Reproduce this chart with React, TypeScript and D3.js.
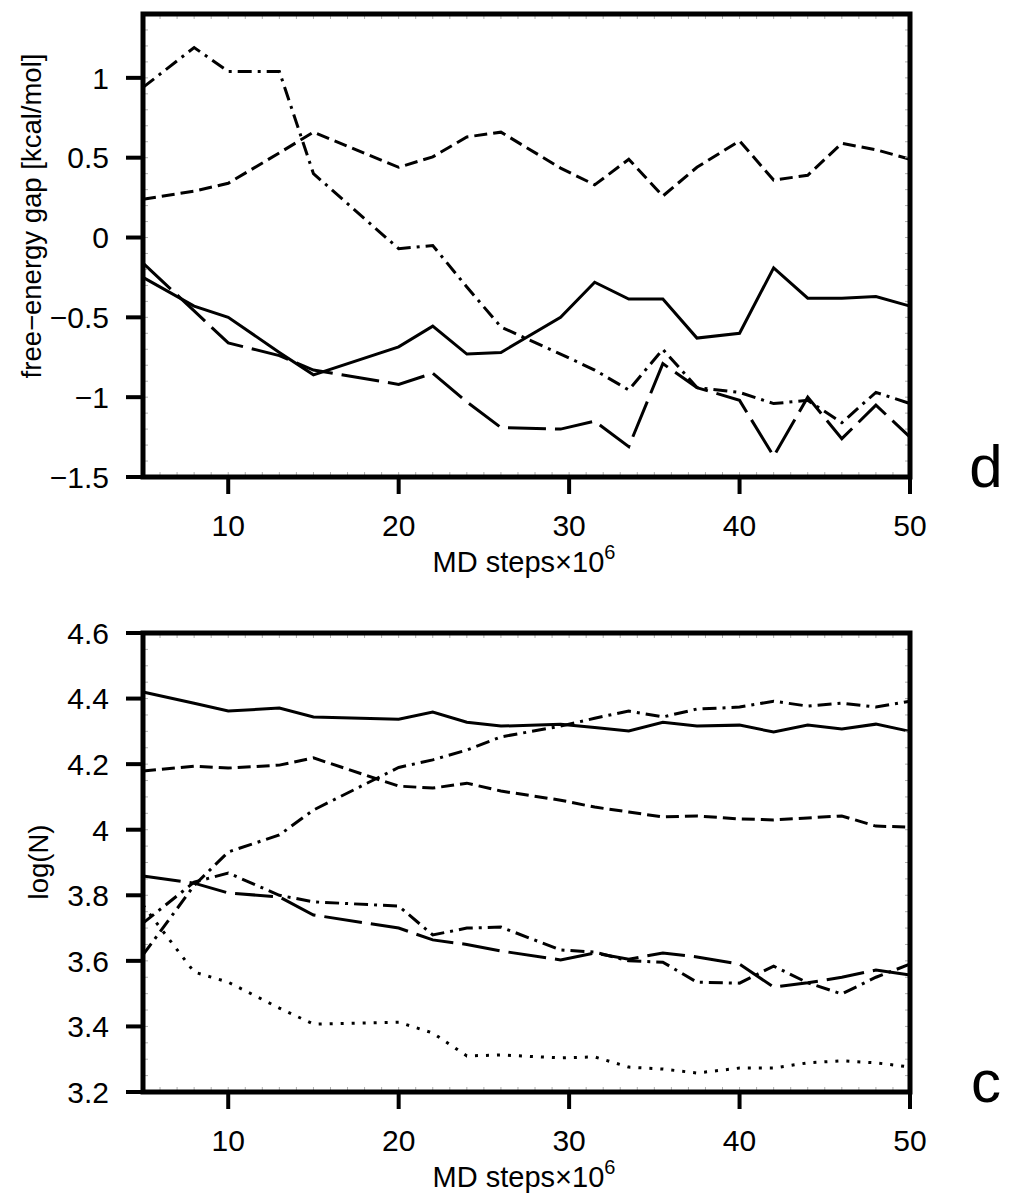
import React from 'react';
import * as d3 from 'd3';

// ---------- data ----------
const xSteps = [5, 8, 10, 13, 15, 20, 22, 24, 26, 29.5, 31.5, 33.5, 35.5, 37.5, 40, 42, 44, 46, 48, 50];
const xTicks = [10, 20, 30, 40, 50];

// panel d : free-energy gap
const gapSolid = [-0.25, -0.43, -0.5, -0.72, -0.86, -0.685, -0.555, -0.73, -0.72, -0.5, -0.28, -0.385, -0.385, -0.63, -0.6, -0.19, -0.38, -0.38, -0.37, -0.43];
const gapDashed = [0.24, 0.29, 0.34, 0.53, 0.66, 0.44, 0.505, 0.63, 0.66, 0.435, 0.33, 0.49, 0.26, 0.44, 0.605, 0.36, 0.39, 0.59, 0.55, 0.49];
const gapDashDot = [0.94, 1.19, 1.04, 1.04, 0.4, -0.07, -0.05, -0.31, -0.56, -0.73, -0.83, -0.955, -0.7, -0.94, -0.97, -1.04, -1.02, -1.16, -0.97, -1.04];
const gapLongDash = [-0.16, -0.46, -0.66, -0.74, -0.83, -0.92, -0.85, -1.03, -1.19, -1.2, -1.15, -1.31, -0.79, -0.94, -1.02, -1.37, -1.0, -1.26, -1.05, -1.25];
const gapTicks = [-1.5, -1, -0.5, 0, 0.5, 1];

// panel c : log(N)
const logSolid = [4.42, 4.386, 4.362, 4.371, 4.344, 4.337, 4.359, 4.328, 4.316, 4.322, 4.312, 4.301, 4.328, 4.316, 4.319, 4.298, 4.319, 4.307, 4.322, 4.3];
const logDashed = [4.179, 4.194, 4.188, 4.197, 4.219, 4.133, 4.127, 4.142, 4.118, 4.09, 4.069, 4.054, 4.039, 4.042, 4.033, 4.03, 4.036, 4.042, 4.011, 4.008];
const logDashDotUp = [3.618, 3.83, 3.932, 3.984, 4.06, 4.19, 4.213, 4.243, 4.283, 4.316, 4.34, 4.362, 4.344, 4.368, 4.374, 4.392, 4.377, 4.386, 4.374, 4.392];
const logDashDotDown = [3.715, 3.84, 3.868, 3.8, 3.78, 3.767, 3.679, 3.7, 3.703, 3.633, 3.627, 3.6, 3.596, 3.535, 3.532, 3.584, 3.533, 3.499, 3.55, 3.59];
const logLongDash = [3.859, 3.837, 3.807, 3.795, 3.74, 3.7, 3.664, 3.65, 3.63, 3.603, 3.624, 3.605, 3.624, 3.612, 3.59, 3.52, 3.533, 3.55, 3.572, 3.557];
const logDotted = [3.77, 3.566, 3.535, 3.456, 3.407, 3.413, 3.38, 3.31, 3.313, 3.304, 3.307, 3.276, 3.27, 3.258, 3.273, 3.273, 3.289, 3.295, 3.289, 3.276];
const logTicks = [3.2, 3.4, 3.6, 3.8, 4, 4.2, 4.4, 4.6];

// ---------- styles ----------
const DASH = {
  solid: undefined as string | undefined,
  dashed: '13 6',
  longDash: '38 9',
  dashDot: '14 6 3 6',
  dotted: '3 8',
};

const FONT = '"Liberation Sans", Arial, Helvetica, sans-serif';
const X0 = 143;
const X1 = 910;

type Series = { values: number[]; dash?: string };

function fmt(v: number) {
  return (v < 0 ? '\u2212' : '') + String(Math.abs(v));
}

function Panel(props: {
  top: number;
  bottom: number;
  yDomain: [number, number];
  yTicks: number[];
  yMinorStep: number;
  series: Series[];
  yLabel: string;
  yLabelX: number;
  yLabelY: number;
  letter: string;
  letterY: number;
}) {
  const { top, bottom, yDomain, yTicks, yMinorStep, series, yLabel, yLabelX, yLabelY, letter, letterY } = props;
  const x = d3.scaleLinear().domain([5, 50]).range([X0, X1]);
  const y = d3.scaleLinear().domain(yDomain).range([bottom, top]);
  const line = d3
    .line<number>()
    .x((_, i) => x(xSteps[i]))
    .y((d) => y(d));

  const xMinor = d3.range(5, 50.001, 1);
  const yMinor = d3.range(yDomain[0], yDomain[1] + 1e-6, yMinorStep);

  return (
    <g>
      {series.map((s, i) => (
        <path
          key={i}
          d={line(s.values) || ''}
          fill="none"
          stroke="#000"
          strokeWidth={3}
          strokeDasharray={s.dash}
          strokeLinejoin="miter"
        />
      ))}
      {/* minor ticks */}
      {xMinor.map((v, i) => (
        <g key={'xm' + i} stroke="#b0b0b0" strokeWidth={1}>
          <line x1={x(v)} x2={x(v)} y1={top + 2} y2={top + 5} />
          <line x1={x(v)} x2={x(v)} y1={bottom - 2} y2={bottom - 5} />
        </g>
      ))}
      {yMinor.map((v, i) => (
        <g key={'ym' + i} stroke="#b0b0b0" strokeWidth={1}>
          <line x1={X0 + 2} x2={X0 + 5} y1={y(v)} y2={y(v)} />
          <line x1={X1 - 2} x2={X1 - 5} y1={y(v)} y2={y(v)} />
        </g>
      ))}
      {/* frame */}
      <rect x={X0} y={top} width={X1 - X0} height={bottom - top} fill="none" stroke="#000" strokeWidth={5} />
      {/* y ticks */}
      {yTicks.map((v) => (
        <g key={'yt' + v}>
          <line x1={X0 - 17} x2={X0} y1={y(v)} y2={y(v)} stroke="#000" strokeWidth={4} />
          <text
            x={109}
            y={y(v)}
            dy="0.36em"
            textAnchor="end"
            fontFamily={FONT}
            fontSize={30}
            fill="#000"
          >
            {fmt(v)}
          </text>
        </g>
      ))}
      {/* x ticks */}
      {xTicks.map((v) => (
        <g key={'xt' + v}>
          <line x1={x(v)} x2={x(v)} y1={bottom} y2={bottom + 17} stroke="#000" strokeWidth={4} />
          <text x={x(v)} y={bottom + 59} textAnchor="middle" fontFamily={FONT} fontSize={30} fill="#000">
            {v}
          </text>
        </g>
      ))}
      {/* x title */}
      <text x={524} y={bottom + 95} textAnchor="middle" fontFamily={FONT} fontSize={29} fill="#000">
        MD steps×10
        <tspan fontSize={20} dy={-13}>
          6
        </tspan>
      </text>
      {/* y title */}
      <text
        transform={`translate(${yLabelX},${yLabelY}) rotate(-90)`}
        textAnchor="middle"
        dy="0.35em"
        fontFamily={FONT}
        fontSize={27.5}
        fill="#000"
      >
        {yLabel}
      </text>
      {/* panel letter */}
      <text x={986} y={letterY} textAnchor="middle" fontFamily={FONT} fontSize={60} fill="#000">
        {letter}
      </text>
    </g>
  );
}

export default function App() {
  const topSeries: Series[] = [
    { values: gapSolid, dash: DASH.solid },
    { values: gapDashed, dash: DASH.dashed },
    { values: gapDashDot, dash: DASH.dashDot },
    { values: gapLongDash, dash: DASH.longDash },
  ];
  const bottomSeries: Series[] = [
    { values: logSolid, dash: DASH.solid },
    { values: logDashed, dash: DASH.dashed },
    { values: logDashDotUp, dash: DASH.dashDot },
    { values: logDashDotDown, dash: DASH.dashDot },
    { values: logLongDash, dash: DASH.longDash },
    { values: logDotted, dash: DASH.dotted },
  ];
  return (
    <svg
      width={1016}
      height={1197}
      viewBox="0 0 1016 1197"
      style={{ position: 'absolute', left: 0, top: 0, background: '#fff' }}
    >
      <rect x={0} y={0} width={1016} height={1197} fill="#fff" />
      <Panel
        top={14}
        bottom={477}
        yDomain={[-1.5, 1.4]}
        yTicks={gapTicks}
        yMinorStep={0.1}
        series={topSeries}
        yLabel="free−energy gap [kcal/mol]"
        yLabelX={31}
        yLabelY={216}
        letter="d"
        letterY={487}
      />
      <Panel
        top={633}
        bottom={1092}
        yDomain={[3.2, 4.6]}
        yTicks={logTicks}
        yMinorStep={0.05}
        series={bottomSeries}
        yLabel="log(N)"
        yLabelX={38}
        yLabelY={862}
        letter="c"
        letterY={1102}
      />
    </svg>
  );
}
